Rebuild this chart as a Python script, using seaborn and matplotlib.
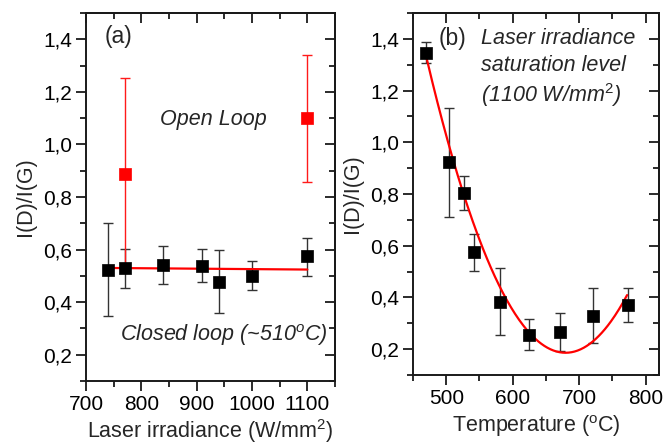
import numpy as np
import pandas as pd
import matplotlib
matplotlib.use("Agg")
import matplotlib.pyplot as plt
import seaborn as sns
from matplotlib.ticker import MultipleLocator, FuncFormatter

sns.set_theme(style="ticks")
plt.rcParams['font.family'] = ['Liberation Sans', 'DejaVu Sans']
plt.rcParams['mathtext.fontset'] = 'custom'
plt.rcParams['mathtext.rm'] = 'Liberation Sans'
plt.rcParams['mathtext.it'] = 'Liberation Sans:italic'

# ---- Panel (a) data ----
closed_irr = [740, 770, 840, 910, 940, 1000, 1100]
closed_ratio = [0.524, 0.530, 0.543, 0.539, 0.477, 0.501, 0.575]
closed_lo = [0.349, 0.455, 0.469, 0.476, 0.359, 0.446, 0.501]
closed_hi = [0.702, 0.604, 0.615, 0.603, 0.597, 0.558, 0.644]

open_irr = [770, 1100]
open_ratio = [0.886, 1.099]
open_err = [0.367, 0.243]

closed_fit_x = [740, 1100]
closed_fit_y = [0.530, 0.524]

# ---- Panel (b) data ----
temp = [470, 504, 526, 541, 581, 624, 671, 720, 773]
temp_ratio = [1.347, 0.922, 0.804, 0.574, 0.382, 0.255, 0.266, 0.330, 0.370]
temp_lo = [1.307, 0.712, 0.740, 0.503, 0.253, 0.196, 0.192, 0.222, 0.304]
temp_hi = [1.386, 1.132, 0.869, 0.647, 0.513, 0.315, 0.339, 0.438, 0.436]

# quadratic fit curve parameters
fit_T0 = 679.5
fit_min = 0.186
fit_curv = 2.607e-5
fit_range = [470, 772]

FS = 15.5
TFS = 15
dark = '#1a1a1a'
ebar_col = '#333333'

fig = plt.figure(figsize=(6.64, 4.46), dpi=100)
axA = fig.add_axes([86/664, 65/446, 249/664, 368/446])
axB = fig.add_axes([413/664, 71/446, 246/664, 362/446])

comma = FuncFormatter(lambda v, p: f"{v:.1f}".replace('.', ','))


def style(ax, xmaj, xmin):
    for s in ax.spines.values():
        s.set_linewidth(1.4)
        s.set_color(dark)
    ax.xaxis.set_major_locator(MultipleLocator(xmaj))
    ax.xaxis.set_minor_locator(MultipleLocator(xmin))
    ax.yaxis.set_major_locator(MultipleLocator(0.2))
    ax.yaxis.set_minor_locator(MultipleLocator(0.1))
    ax.yaxis.set_major_formatter(comma)
    ax.tick_params(which='major', direction='out', length=7, width=1.3,
                   colors=dark, labelsize=TFS, labelcolor='black', pad=3)
    ax.tick_params(which='minor', direction='out', length=4, width=1.3,
                   colors=dark)
    ax.set_ylim(0.1, 1.5)
    # inward ticks on top and right
    top = ax.secondary_xaxis('top')
    top.xaxis.set_major_locator(MultipleLocator(xmaj))
    top.xaxis.set_minor_locator(MultipleLocator(xmin))
    top.tick_params(which='major', direction='in', length=7, width=1.3,
                    colors=dark, labeltop=False)
    top.tick_params(which='minor', direction='in', length=4, width=1.3,
                    colors=dark)
    top.spines['top'].set_linewidth(1.4)
    right = ax.secondary_yaxis('right')
    right.yaxis.set_major_locator(MultipleLocator(0.2))
    right.yaxis.set_minor_locator(MultipleLocator(0.1))
    right.tick_params(which='major', direction='in', length=7, width=1.3,
                      colors=dark, labelright=False)
    right.tick_params(which='minor', direction='in', length=4, width=1.3,
                      colors=dark)
    right.spines['right'].set_linewidth(1.4)


# ---- Panel (a) ----
axA.set_xlim(700, 1150)
cr = np.array(closed_ratio)
axA.errorbar(closed_irr, cr,
             yerr=[cr - np.array(closed_lo), np.array(closed_hi) - cr],
             fmt='none', ecolor=ebar_col, elinewidth=1.0, capsize=3.5,
             capthick=1.0, zorder=2)
axA.errorbar(open_irr, open_ratio, yerr=open_err, fmt='none', ecolor='#ff1a1a',
             elinewidth=1.0, capsize=3.5, capthick=1.0, zorder=2)
sns.lineplot(x=closed_fit_x, y=closed_fit_y, ax=axA, color='#ff0000',
             linewidth=1.6, zorder=3)
sns.scatterplot(x=closed_irr, y=closed_ratio, ax=axA, marker='s', s=75,
                color='black', edgecolor='black', linewidth=0.5, zorder=4)
sns.scatterplot(x=open_irr, y=open_ratio, ax=axA, marker='s', s=65,
                color='#ff0000', edgecolor='#ff0000', linewidth=0.5, zorder=4)
style(axA, 100, 50)
axA.set_ylim(0.1, 1.5)
axA.set_xlabel('Laser irradiance (W/mm$^{\\mathrm{2}}$)', fontsize=FS,
               labelpad=2)
axA.set_ylabel('I(D)/I(G)', fontsize=FS, labelpad=5)
axA.text(734, 1.41, '(a)', fontsize=FS + 1, va='center', ha='left')
axA.text(834, 1.093, 'Open Loop', fontsize=FS, style='italic', va='center',
         ha='left')
axA.text(761, 0.274, 'Closed loop (~510$^{\\mathit{o}}$C)', fontsize=FS,
         style='italic', va='center', ha='left')

# ---- Panel (b) ----
axB.set_xlim(450, 820)
tr = np.array(temp_ratio)
axB.errorbar(temp, tr, yerr=[tr - np.array(temp_lo), np.array(temp_hi) - tr],
             fmt='none', ecolor=ebar_col, elinewidth=1.0, capsize=3.5,
             capthick=1.0, zorder=2)
fx = np.linspace(fit_range[0], fit_range[1], 200)
fy = fit_min + fit_curv * (fx - fit_T0) ** 2
sns.lineplot(x=fx, y=fy, ax=axB, color='#ff0000', linewidth=1.6, zorder=3)
sns.scatterplot(x=temp, y=temp_ratio, ax=axB, marker='s', s=75,
                color='black', edgecolor='black', linewidth=0.5, zorder=4)
style(axB, 100, 50)
axB.set_ylim(0.1, 1.5)
axB.set_xlabel('Temperature ($^{\\mathrm{o}}$C)', fontsize=FS, labelpad=4)
axB.set_ylabel('I(D)/I(G)', fontsize=FS, labelpad=5)
axB.text(488, 1.40, '(b)', fontsize=FS + 1, va='center', ha='left')
axB.text(553, 1.40, 'Laser irradiance', fontsize=FS, style='italic',
         va='center', ha='left')
axB.text(553, 1.298, 'saturation level', fontsize=FS, style='italic',
         va='center', ha='left')
axB.text(553, 1.182, '(1100 W/mm$^{\\mathit{2}}$)', fontsize=FS,
         style='italic', va='center', ha='left')

fig.savefig('out.png', dpi=100)
